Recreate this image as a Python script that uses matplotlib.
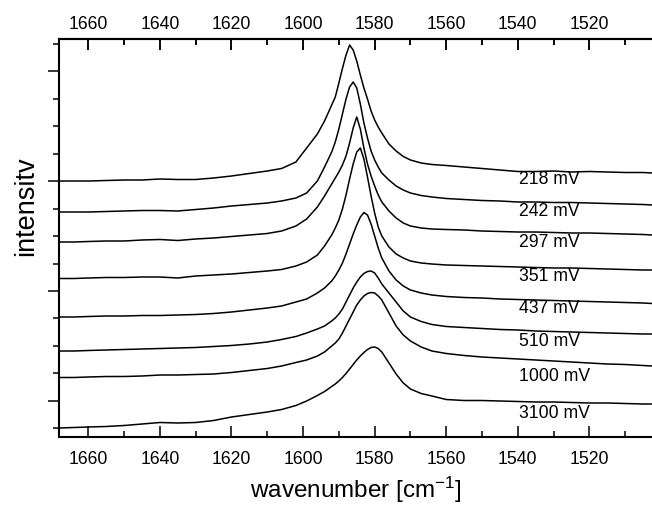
import matplotlib
matplotlib.use('Agg')
import matplotlib.pyplot as plt
import numpy as np
from matplotlib.ticker import FixedLocator

plt.rcParams['font.family'] = ['Liberation Sans', 'DejaVu Sans']
plt.rcParams['mathtext.fontset'] = 'custom'
plt.rcParams['mathtext.rm'] = 'Liberation Sans'
plt.rcParams['mathtext.default'] = 'regular'

# raman shift grid (cm-1)
wavenumber = [1668, 1664, 1660, 1655, 1650, 1645, 1640, 1635, 1630, 1625,
              1620, 1615, 1610, 1606, 1602, 1599, 1596, 1594, 1592, 1591,
              1590, 1589, 1588, 1587, 1586, 1585, 1584, 1583, 1582, 1581,
              1580, 1579, 1578, 1576, 1574, 1572, 1570, 1567, 1564, 1560,
              1555, 1550, 1545, 1540, 1535, 1530, 1525, 1520, 1515, 1510,
              1505, 1502.5]

# stacked spectra (offset intensity, arb. units)
s218 = [248, 248, 248, 248.5, 249, 249, 250, 249.5, 249.5, 251,
        253, 255.5, 258, 260.5, 267, 281, 295, 308, 324, 332,
        346, 360.5, 374, 384, 379, 368, 354, 341, 330, 318,
        309, 302, 296, 285, 278, 272.5, 269, 266, 264.5, 263.5,
        262, 260.5, 259, 257.5, 257.5, 258, 257, 257.5, 257, 256.5,
        256.5, 256]
s242 = [217, 217, 217, 217.5, 218, 218.5, 218.5, 218, 219.5, 221,
        223, 224.5, 226, 228, 231, 236, 248, 262, 277, 287,
        300, 315, 330, 342, 347, 341, 325, 306, 291, 278,
        269, 262, 256, 249, 243, 239, 236, 233.5, 232, 230.5,
        229.5, 228.5, 228, 227, 227, 226.5, 226.5, 226, 225.5, 225,
        224.5, 224]
s297 = [187, 187, 187.5, 188, 188, 189, 189.5, 188.5, 190, 191,
        192.5, 194, 195.5, 198, 203, 210, 222, 233, 245, 251,
        257, 264, 273, 286, 301, 312, 300, 281, 265, 253,
        243, 234, 227, 218, 211, 206, 203, 201, 200, 199.5,
        199, 198, 197.5, 197, 197, 196.5, 196, 196, 195.5, 195,
        194.5, 194]
s351 = [150.5, 150.5, 151, 151.5, 151.5, 152, 152, 151, 153, 154,
        155, 156.5, 158, 159.5, 163, 167, 174, 183, 194, 201,
        209, 220, 234, 250, 265, 277, 281, 270, 252, 233,
        216, 202, 193, 182, 175, 171, 168, 166, 165, 164,
        163.5, 163, 162.5, 162, 161.5, 161, 161, 160.5, 160, 159.5,
        159, 159]
s437 = [112, 112, 112.5, 113, 113, 113.5, 113.5, 114, 114.5, 115.5,
        117, 119, 121, 123, 127, 130, 136, 141, 148, 153,
        159, 166, 175, 185, 195, 204, 212, 216.5, 214, 205,
        193, 181, 171, 158, 149, 143, 139, 136, 134, 132.5,
        131.5, 131, 130, 129.5, 129, 128.5, 128, 127.5, 127, 126.5,
        126, 125.5]
s510 = [78, 78, 78.5, 79, 79.5, 80, 80.5, 81, 81.5, 82.5,
        83.5, 85, 87, 89.5, 92.5, 96, 100, 103, 108, 111,
        115, 120, 127, 134, 141, 147, 152, 155.5, 157.5, 158,
        156, 151, 145, 136, 127, 118, 112, 107.5, 104.5, 102.5,
        101.5, 100.5, 99.5, 99, 98, 97.5, 97, 96.5, 96, 95.5,
        95, 95]
s1000 = [51.5, 51.5, 52, 52.5, 52.5, 53, 54, 54, 54.5, 55,
         56.5, 58.5, 60.5, 63, 66.5, 69, 73, 77, 83, 86,
         90, 96, 103, 110, 117, 124, 129, 133, 135.5, 136.5,
         136, 133, 129, 116, 103, 94, 88, 82, 78, 75.5,
         73.5, 72, 71, 70, 69, 68, 67, 66, 65, 64.5,
         63.5, 63]
s3100 = [1, 1.5, 2, 2.5, 3.5, 5, 6.5, 6, 6.5, 8.5,
         12, 14.5, 17, 19.5, 23.5, 28, 33.5, 37.5, 42.5, 45,
         48, 51.5, 55.5, 60, 64.5, 69, 73, 76.5, 79.5, 81.5,
         82, 80.5, 77, 66, 55, 46, 40, 35.5, 33, 29.5,
         28.5, 28.5, 28, 27.5, 27, 27, 26.5, 26, 26, 25.5,
         25, 25]

spectra = [s218, s242, s297, s351, s437, s510, s1000, s3100]
labels = ['218 mV', '242 mV', '297 mV', '351 mV', '437 mV', '510 mV',
          '1000 mV', '3100 mV']
label_y = [250, 218.3, 187.5, 153.3, 121, 88.3, 53.3, 16.7]

fig = plt.figure(figsize=(6.52, 5.06), dpi=100)
ax = fig.add_axes([59 / 652, 1 - 438 / 506, 593 / 652, 398 / 506])

for s in spectra:
    ax.plot(wavenumber, s, color='black', lw=1.1)
for lab, yl in zip(labels, label_y):
    ax.text(1539.7, yl, lab, ha='left', va='center', fontsize=12.7)

ax.set_xlim(1668.2, 1502.5)
ax.set_ylim(-8, 390)

major_x = np.arange(1520, 1661, 20)
minor_x = np.arange(1510, 1668, 10)
ax.xaxis.set_major_locator(FixedLocator(major_x))
ax.xaxis.set_minor_locator(FixedLocator(minor_x))
ax.tick_params(axis='x', which='both', direction='in', top=True, width=1.1,
               labelsize=12.7, pad=9.5)
ax.tick_params(axis='x', which='major', length=8)
ax.tick_params(axis='x', which='minor', length=4)

secax = ax.secondary_xaxis('top')
secax.xaxis.set_major_locator(FixedLocator(major_x))
secax.xaxis.set_minor_locator(FixedLocator(minor_x))
secax.tick_params(axis='x', which='both', direction='in', width=1.1,
                  labelsize=12.7, pad=5)
secax.tick_params(axis='x', which='major', length=8)
secax.tick_params(axis='x', which='minor', length=4)
secax.spines['top'].set_linewidth(1.5)

yt = 0.7 + 27.46 * np.arange(15)
ax.yaxis.set_major_locator(FixedLocator(yt[1::4]))
ax.yaxis.set_minor_locator(FixedLocator(np.delete(yt, [1, 5, 9, 13])))
ax.tick_params(axis='y', which='both', direction='out', left=True,
               labelleft=False, width=1.1)
ax.tick_params(axis='y', which='major', length=8)
ax.tick_params(axis='y', which='minor', length=4)

for side in ['left', 'bottom', 'top']:
    ax.spines[side].set_linewidth(1.5)
ax.spines['right'].set_visible(False)

ax.set_xlabel('wavenumber [cm$^{-1}$]', fontsize=17.5, labelpad=5)
ax.set_ylabel('intensitv', fontsize=19.5)
ax.yaxis.set_label_coords(-0.034, 0.583)

fig.savefig('out.png', dpi=100)
